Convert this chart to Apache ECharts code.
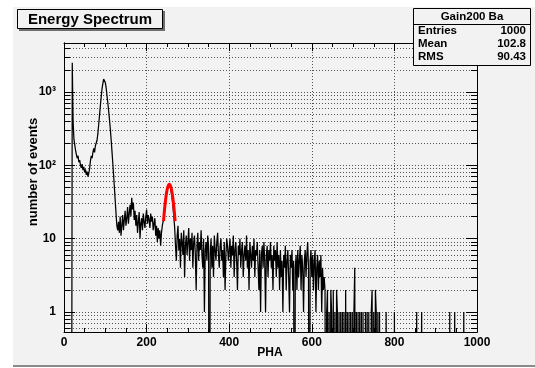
<!DOCTYPE html>
<html><head><meta charset="utf-8">
<script src="https://cdn.jsdelivr.net/npm/echarts@6/dist/echarts.min.js"></script>
<style>html,body{margin:0;padding:0;background:#ffffff;}#c{width:535px;height:368px;}</style>
</head><body><div id="c"></div>
<script>
// ---- data, bins of 2 PHA units from 0 to 1000 ----
const binWidth = 2;
const countsLow = [            // PHA 0 - 132 : threshold, noise spike, first peak
  0,0,0,0,0,0,0,0,0,0,2500,400,
  230,190,160,140,125,135,110,118,100,92,104,86,95,80,88,74,82,70,78,90,
  115,135,125,150,170,150,185,175,220,270,360,480,650,850,1100,1300,1500,1520,
  1350,1150,900,720,560,430,320,230,160,110,75,50,33,22,15,13
];
const countsPlateau = [        // PHA 132 - 240
  17,12,20,11,15,21,13,18,24,15,19,27,16,22,29,20,36,25,31,18,
  24,15,21,12,17,23,10,16,19,13,22,17,14,20,25,16,21,18,14,22,
  17,20,13,16,19,11,15,9,14,10,13,8,12,15
];
const countsPeak2 = [          // PHA 240 - 268 : the fitted line
  17,21,26,32,40,46,51,54,53,49,42,35,27,20
];
const countsBand1 = [          // PHA 268 - 400
  14,8,5,11,15,7,10,4,12,9,6,13,3,8,11,6,9,14,5,10,
  7,12,4,9,11,6,2,8,12,5,9,7,13,6,4,10,1,7,9,5,
  11,8,0,6,10,4,8,3,11,7,5,9,12,6,4,8,10,5,7,3,
  9,2,6,10,8,5
];
const countsBand2 = [          // PHA 400 - 520
  7,10,4,8,6,11,3,7,9,5,2,8,6,10,4,7,9,3,6,8,
  5,11,4,7,2,9,6,4,8,5,10,3,7,6,9,4,2,7,1,6,
  8,4,9,5,1,6,8,3,7,5,9,4,6,2,8,5,7,3,9,4
];
const countsBand3 = [          // PHA 520 - 632
  6,2,7,3,5,1,6,4,8,2,5,7,3,1,6,4,7,2,5,0,
  4,6,2,7,3,5,8,2,6,4,1,5,7,3,6,9,4,0,5,7,
  3,6,2,5,7,1,4,6,2,5,3,6,1,4,2,3
];
const countsSparse = [         // PHA 632 - 772
  2,0,1,2,0,1,0,2,1,0,2,0,1,0,2,1,0,1,0,1,
  0,1,0,1,0,2,0,1,0,1,0,1,0,1,0,1,4,0,1,0,
  1,0,1,0,1,0,1,0,0,1,0,1,0,1,0,0,1,2,0,1,
  0,2,1,0,1,0,1,0,0,0
];
const countsTail = [           // PHA 772 - 1000
  0,0,0,0,1,0,0,0,0,0, 0,0,0,0,1,0,0,0,0,0, 0,0,0,0,0,0,0,0,0,0,
  0,0,0,0,0,0,0,0,0,0, 0,1,0,0,0,0,0,1,0,0, 0,0,0,0,0,0,0,0,0,0,
  0,0,0,0,0,0,0,0,0,0, 0,0,0,0,0,0,0,0,0,0, 0,1,0,0,0,0,0,1,0,0,
  0,0,0,0,0,0,0,0,1,0, 0,0,0,0,0,0,0,0,0,0, 0,0,0,0
];
const fitX = [241, 244, 247, 250, 253, 255, 257, 260, 263, 266, 269];
const fitY = [17.4, 27, 37.7, 47.5, 53.7, 55, 53.7, 47.5, 37.7, 27, 17.4];
const xTickLabels = ['0','200','400','600','800','1000'];
const yMajor = [1, 10, 100, 1000];
const yMajorLabels = ['1', '10', '10\u00B2', '10\u00B3'];
const yMinor = [0.6,0.7,0.8,0.9,1,2,3,4,5,6,7,8,9,10,20,30,40,50,60,70,80,90,
                100,200,300,400,500,600,700,800,900,1000,2000,3000,4000];
const statsTitle = 'Gain200 Ba';
const statsRows = [['Entries','1000'],['Mean','102.8'],['RMS','90.43']];

// ---- build ----
const counts = [].concat(countsLow, countsPlateau, countsPeak2, countsBand1,
                         countsBand2, countsBand3, countsSparse, countsTail);
const FONT = '"Liberation Sans", Arial, Helvetica, sans-serif';
const Y_MIN = 0.533, Y_MAX = 4660;
const ZERO_DRAW = 1e-4;   // empty bins are drawn below the frame (like ROOT)
const histData = counts.map((c, i) => [i * binWidth, c > 0 ? c : ZERO_DRAW]);
const lastC = counts[counts.length - 1];
histData.push([counts.length * binWidth, lastC > 0 ? lastC : ZERO_DRAW]);
const fitData = fitX.map((x, i) => [x, fitY[i]]);

const chart = echarts.init(document.getElementById('c'), null, {renderer: 'canvas'});

const dotted = {color: '#555', width: 1, type: [1, 2]};
function yAx(pos, tickVals, len, withLabels, withGrid) {
  return {
    type: 'log', position: pos, min: Y_MIN, max: Y_MAX, logBase: 10,
    axisLine: {show: true, lineStyle: {color: '#000', width: 1}},
    axisTick: {show: true, inside: true, length: len, customValues: tickVals, lineStyle: {color: '#000', width: 1}},
    minorTick: {show: false},
    axisLabel: withLabels ? {
      show: true, customValues: yMajor, margin: 8,
      fontFamily: FONT, fontWeight: 'bold', fontSize: 12, color: '#000',
      formatter: v => yMajorLabels[Math.round(Math.log10(v))]
    } : {show: false},
    splitLine: withGrid ? {show: true, lineStyle: dotted} : {show: false}
  };
}
function xAx(pos, withLabels, withGrid) {
  return {
    type: 'value', position: pos, min: 0, max: 1000, interval: 200,
    axisLine: {show: true, onZero: false, lineStyle: {color: '#000', width: 1}},
    axisTick: {show: true, inside: true, length: 8, lineStyle: {color: '#000', width: 1}},
    minorTick: {show: true, splitNumber: 4, length: 4, lineStyle: {color: '#000', width: 1}},
    axisLabel: withLabels ? {
      show: true, margin: 5, fontFamily: FONT, fontWeight: 'bold', fontSize: 12, color: '#000',
      formatter: v => xTickLabels[Math.round(v / 200)]
    } : {show: false},
    splitLine: withGrid ? {show: true, lineStyle: dotted} : {show: false}
  };
}

const option = {
  animation: false,
  backgroundColor: 'transparent',
  grid: {left: 64, top: 43, right: 58, bottom: 36, containLabel: false},
  xAxis: [xAx('bottom', true, true), xAx('top', false, false)],
  yAxis: [
    yAx('left', yMajor, 11, true, false),
    yAx('left', yMinor, 6, false, true),
    yAx('right', yMajor, 11, false, false),
    yAx('right', yMinor, 6, false, false)
  ],
  series: [
    {
      type: 'line', name: 'hist', xAxisIndex: 0, yAxisIndex: 0,
      data: histData, step: 'end', showSymbol: false, clip: true,
      lineStyle: {color: '#000', width: 1.25}, z: 3
    },
    {
      type: 'line', name: 'fit', xAxisIndex: 0, yAxisIndex: 0,
      data: fitData, smooth: 0.4, showSymbol: false, clip: true,
      lineStyle: {color: '#ff0000', width: 3}, z: 4
    }
  ],
  graphic: [
    {type: 'rect', z: -10, silent: true, shape: {x: 13, y: 7, width: 530, height: 360},
     style: {fill: '#f2f2f2', stroke: null}},
    {type: 'line', z: -9, silent: true, shape: {x1: 13, y1: 366, x2: 535, y2: 366},
     style: {stroke: '#8a8a8a', lineWidth: 2}},
    // title box
    {type: 'rect', z: 10, silent: true, shape: {x: 19, y: 11, width: 146, height: 20},
     style: {fill: '#6e6e6e'}},
    {type: 'rect', z: 11, silent: true, shape: {x: 17.5, y: 9.5, width: 145, height: 19},
     style: {fill: '#f2f2f2', stroke: '#000', lineWidth: 1}},
    {type: 'text', z: 12, silent: true, style: {x: 90, y: 19.5, text: 'Energy Spectrum',
     font: 'bold 15px ' + FONT, fill: '#000', textAlign: 'center', textVerticalAlign: 'middle'}},
    // stats box
    {type: 'rect', z: 11, silent: true, shape: {x: 413.5, y: 8.5, width: 117, height: 57},
     style: {fill: '#f2f2f2', stroke: '#000', lineWidth: 1}},
    {type: 'line', z: 12, silent: true, shape: {x1: 413.5, y1: 24.5, x2: 530.5, y2: 24.5},
     style: {stroke: '#000', lineWidth: 1}},
    {type: 'text', z: 12, silent: true, style: {x: 472, y: 16.5, text: statsTitle,
     font: 'bold 11.5px ' + FONT, fill: '#000', textAlign: 'center', textVerticalAlign: 'middle'}},
    ...statsRows.flatMap((r, i) => [
      {type: 'text', z: 12, silent: true, style: {x: 418, y: 31 + 13 * i, text: r[0],
       font: 'bold 11.5px ' + FONT, fill: '#000', textAlign: 'left', textVerticalAlign: 'middle'}},
      {type: 'text', z: 12, silent: true, style: {x: 526, y: 31 + 13 * i, text: r[1],
       font: 'bold 11.5px ' + FONT, fill: '#000', textAlign: 'right', textVerticalAlign: 'middle'}}
    ]),
    // axis titles
    {type: 'text', z: 12, silent: true, x: 33, y: 172, rotation: Math.PI / 2,
     style: {x: 0, y: 0, text: 'number of events', font: 'bold 13px ' + FONT, fill: '#000',
     textAlign: 'center', textVerticalAlign: 'middle'}},
    {type: 'text', z: 12, silent: true, style: {x: 270, y: 353, text: 'PHA',
     font: 'bold 12px ' + FONT, fill: '#000', textAlign: 'center', textVerticalAlign: 'middle'}}
  ]
};
chart.setOption(option);
</script></body></html>
